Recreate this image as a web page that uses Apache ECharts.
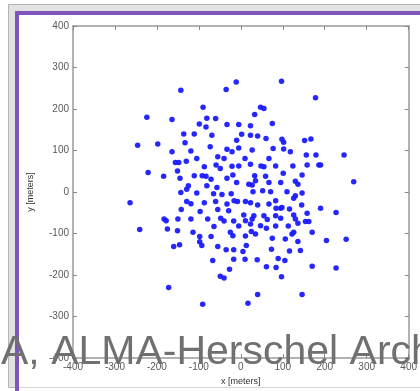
<!DOCTYPE html>
<html>
<head>
<meta charset="utf-8">
<title>Antenna positions</title>
<script src="https://cdn.jsdelivr.net/npm/echarts@6/dist/echarts.min.js"></script>
<style>
  html, body { margin: 0; padding: 0; background: #ffffff; }
  #chart { width: 420px; height: 391px; }
</style>
</head>
<body>
<div id="chart"></div>
<script>
// Antenna pad offsets from the array centre, in metres (east, north)
const eastOffsets = [
  -143, -11, -35, -224, -164, -90, -81, -60, -99, -83, -33, -5, -136, -111, -69, -10,
  -246, -198, -133, -73, -33, -5, -164, -119, -105, -55, -40, -21, -156, -148, -130, -87,
  -59, -49, -21, -5, -151, -221, -184, -145, -111, -92, -83, -71, -33, -19, -125, -129,
  -81, -57, -10,
  97, 178, 47, 55, 33, 75, 23, 2, 23, 40, 60, 98, 102, 152, 167, 27, 77, 102, 118, 156,
  179, 246, 10, 67, 23, 48, 55, 83, 124, 158, 186, 190, 33, 59, 101, 146, 269, 19, 27, 35,
  67, 95, 130, 136,
  -264, -241, -143, -105, -129, -119, -87, -65, -45, -23, -60, -33, -16, -8, -142, -97,
  -55, -29, -183, -178, -150, -119, -79, -48, -40, -17, -175, -151, -64, -114, -98, -71,
  -25, -19, -98, -93, -160, -146, -55, -35, -17, -67, -17, -27, -49, -40, -172, -91,
  29, 52, 71, 110, 130, 126, 146, 11, 23, 40, 67, 83, 84, 95, 98, 116, 145, 190, 227, 158,
  7, 11, 31, 27, 55, 63, 83, 95, 126, 130, 154, 162, -5, 23, 47, 61, 83, 113, 136, 170,
  25, 35, 11, 75, 106, 126, 122, 136, 204, 251, 13, 5, 73, 116, 142, 10, 39, 89, 105, 61,
  84, 170, 227, 97, 40, 146, 17
];
const northOffsets = [
  245, 265, 247, 180, 175, 204, 178, 177, 164, 157, 163, 163, 140, 140, 137, 125,
  113, 116, 119, 109, 103, 106, 97, 99, 81, 85, 81, 97, 71, 71, 74, 61,
  65, 57, 62, 63, 51, 47, 38, 33, 39, 39, 38, 31, 33, 41, 15, 7,
  15, 11, 23,
  267, 227, 204, 201, 187, 165, 160, 139, 137, 135, 129, 127, 120, 124, 128, 101, 105, 104, 97, 89,
  89, 89, 81, 81, 67, 63, 61, 63, 63, 65, 65, 65, 39, 38, 45, 41, 25, 19, 17, 27,
  23, 23, 26, 19,
  -26, -90, -1, -2, -23, -28, -26, -4, -6, -4, -23, -29, -21, -23, -42, -47,
  -42, -45, -65, -69, -65, -65, -65, -63, -70, -70, -89, -93, -83, -97, -107, -107,
  -97, -105, -120, -129, -131, -127, -131, -139, -139, -165, -162, -186, -203, -207, -230, -270,
  1, 3, 1, 1, -9, -15, -2, -23, -26, -31, -29, -21, -39, -39, -37, -41, -31, -39, -49, -51,
  -55, -69, -57, -65, -57, -66, -57, -63, -55, -65, -71, -71, -82, -77, -81, -87, -82, -82, -75, -97,
  -95, -101, -106, -111, -113, -97, -101, -119, -117, -114, -129, -143, -138, -142, -141, -162, -163, -160, -165, -180,
  -182, -179, -183, -204, -247, -247, -268
];

// Axis extent and tick step shared by both axes
const axisMin = -400;
const axisMax = 400;
const tickStep = 100;

const xName = 'x [meters]';
const yName = 'y [meters]';
const bannerText = 'A, ALMA-Herschel Arch';

const points = eastOffsets.map((e, i) => [e, northOffsets[i]]);

const chart = echarts.init(document.getElementById('chart'), null, { renderer: 'canvas' });

const frameColor = '#9a9a9a';
const tickLabelStyle = { fontSize: 10, color: '#5a5a5a', fontFamily: 'Liberation Sans, Arial, sans-serif' };

function baseAxis(extra) {
  return Object.assign({
    type: 'value',
    min: axisMin,
    max: axisMax,
    interval: tickStep,
    splitLine: { show: false },
    axisLine: { show: true, onZero: false, lineStyle: { color: frameColor, width: 1.5 } },
    axisTick: { show: true, inside: true, length: 4, lineStyle: { color: '#888888', width: 1 } }
  }, extra);
}

chart.setOption({
  animation: false,
  backgroundColor: '#ffffff',
  grid: { left: 73, right: 10, top: 26, bottom: 31, containLabel: false },
  xAxis: [
    baseAxis({
      position: 'bottom',
      axisLabel: Object.assign({ margin: 4 }, tickLabelStyle),
      name: xName,
      nameLocation: 'middle',
      nameGap: 18,
      nameTextStyle: { fontSize: 9, color: '#333333', fontFamily: 'Liberation Sans, Arial, sans-serif' }
    }),
    baseAxis({ position: 'top', axisLabel: { show: false } })
  ],
  yAxis: [
    baseAxis({
      position: 'left',
      axisLabel: Object.assign({ margin: 4 }, tickLabelStyle),
      name: yName,
      nameLocation: 'middle',
      nameGap: 38,
      nameRotate: 90,
      nameTextStyle: { fontSize: 9, color: '#333333', fontFamily: 'Liberation Sans, Arial, sans-serif' }
    }),
    baseAxis({ position: 'right', axisLabel: { show: false } })
  ],
  series: [{
    type: 'scatter',
    xAxisIndex: 0,
    yAxisIndex: 0,
    data: points,
    symbol: 'circle',
    symbolSize: 5.5,
    itemStyle: { color: '#1a1aff', opacity: 0.95 }
  }],
  graphic: {
    elements: [
      // window chrome around the figure
      {
        type: 'rect', z: -20, silent: true,
        shape: { x: 8.5, y: 4.5, width: 440, height: 383 },
        style: { fill: '#e2e2e2', stroke: '#b4b4b4', lineWidth: 1 }
      },
      {
        type: 'rect', z: -19, silent: true,
        shape: { x: 17, y: 13, width: 440, height: 380 },
        style: { fill: '#ffffff', stroke: '#7d55bd', lineWidth: 4 }
      },
      {
        type: 'line', z: -18, silent: true,
        shape: { x1: 19, y1: 387.5, x2: 420, y2: 387.5 },
        style: { stroke: '#d6d6d6', lineWidth: 1 }
      },
      // caption overlay across the bottom
      {
        type: 'text', z: 100, silent: true,
        x: 1, y: 353,
        style: {
          text: bannerText,
          fill: '#707070',
          font: '41px "Liberation Sans", Arial, sans-serif',
          verticalAlign: 'middle',
          align: 'left'
        }
      }
    ]
  }
});
</script>
</body>
</html>
